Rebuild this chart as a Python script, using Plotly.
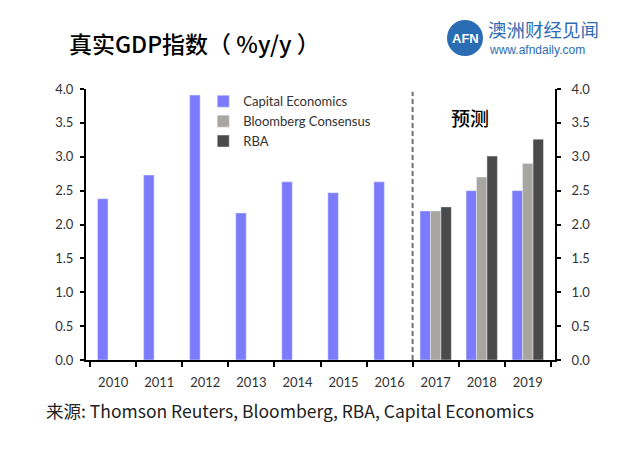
import plotly.graph_objects as go

years = ["2010", "2011", "2012", "2013", "2014", "2015", "2016", "2017", "2018", "2019"]
capital_economics = [2.38, 2.73, 3.91, 2.17, 2.63, 2.47, 2.63, 2.2, 2.5, 2.5]
bloomberg_consensus = [None, None, None, None, None, None, None, 2.2, 2.7, 2.9]
rba = [None, None, None, None, None, None, None, 2.26, 3.01, 3.26]
y_ticks = [0, 0.5, 1.0, 1.5, 2.0, 2.5, 3.0, 3.5, 4.0]

# page body has an 8px margin; positions below are given in screenshot pixels
OFF = 8
W, H = 640, 455
l = 86 - OFF
t = 89 - OFF
r = W - (555 - OFF)
b = H - (360 - OFF)
pw, ph = W - l - r, H - t - b


def px(x):
    return (x - OFF - l) / pw


def py(y):
    return (H - b - (y - OFF)) / ph


tick_font = dict(family="Lato, sans-serif", size=13, color="#333333")

fig = go.Figure()
fig.add_trace(go.Bar(x=years, y=capital_economics, name="Capital Economics", marker_color="#7b7bfb"))
fig.add_trace(go.Bar(x=years, y=bloomberg_consensus, name="Bloomberg Consensus", marker_color="#a9a5a1"))
fig.add_trace(go.Bar(x=years, y=rba, name="RBA", marker_color="#4a4a4a"))
# invisible trace for right axis
fig.add_trace(go.Scatter(x=years, y=[None] * len(years), yaxis="y2", showlegend=False, hoverinfo="skip"))

axis_common = dict(range=[0, 4], tickvals=y_ticks, ticktext=[f"{v:.1f}" for v in y_ticks],
                   showgrid=False, zeroline=False, showline=True, linecolor="black", linewidth=2,
                   ticks="outside", ticklen=4, tickwidth=2, tickcolor="black", tickfont=tick_font)

fig.update_layout(
    width=W, height=H,
    margin=dict(l=l, r=r, t=t, b=b, autoexpand=False),
    paper_bgcolor="white", plot_bgcolor="white",
    barmode="group", bargap=0.32, bargroupgap=0,
    xaxis=dict(type="category", showline=True, linecolor="black", linewidth=2,
               ticks="outside", tickson="boundaries", ticklen=5, tickwidth=2, tickcolor="black",
               showgrid=False, tickfont=tick_font, ticklabelstandoff=9),
    yaxis=dict(**axis_common, ticklabelstandoff=4),
    yaxis2=dict(**axis_common, overlaying="y", side="right", ticklabelstandoff=8),
    legend=dict(x=0.25, y=1.01, xanchor="left", yanchor="top", bgcolor="rgba(0,0,0,0)",
                font=dict(family="Lato, sans-serif", size=13, color="#333333"),
                tracegroupgap=0, itemwidth=30),
    showlegend=True,
)

# forecast divider
fig.add_shape(type="line", xref="x", yref="y", x0=6.5, x1=6.5, y0=0, y1=3.96,
              line=dict(color="#707070", width=2, dash="5px,3px"))

annotations = [
    dict(text="真实GDP指数（ %y/y ）", x=px(67), y=py(43), xanchor="left", yanchor="middle",
         font=dict(family="Noto Sans CJK SC", size=23, color="black", weight=500)),
    dict(text="预测", x=px(470), y=py(117), xanchor="center", yanchor="middle",
         font=dict(family="Noto Sans CJK SC", size=19, color="black", weight=500)),
    dict(text="来源: Thomson Reuters, Bloomberg, RBA, Capital Economics", x=px(44), y=py(410),
         xanchor="left", yanchor="middle",
         font=dict(family="Noto Sans CJK SC, sans-serif", size=17.5, color="#222222")),
    dict(text="<b>AFN</b>", x=px(465), y=py(38), xanchor="center", yanchor="middle",
         font=dict(family="Liberation Sans", size=13, color="white")),
    dict(text="澳洲财经见闻", x=px(486), y=py(29), xanchor="left", yanchor="middle",
         font=dict(family="Noto Sans CJK SC", size=18.5, color="#2d6db4")),
    dict(text="www.afndaily.com", x=px(487), y=py(50), xanchor="left", yanchor="middle",
         font=dict(family="Liberation Sans", size=12, color="#2d6db4")),
]
for a in annotations:
    a.update(xref="paper", yref="paper", showarrow=False)
fig.update_layout(annotations=annotations)

# logo circle
cx, cy, rad = 465, 38, 18
fig.add_shape(type="circle", xref="paper", yref="paper",
              x0=px(cx - rad), x1=px(cx + rad), y0=py(cy + rad), y1=py(cy - rad),
              fillcolor="#2a6db5", line=dict(width=0), layer="below")

fig.write_html("out.html")
